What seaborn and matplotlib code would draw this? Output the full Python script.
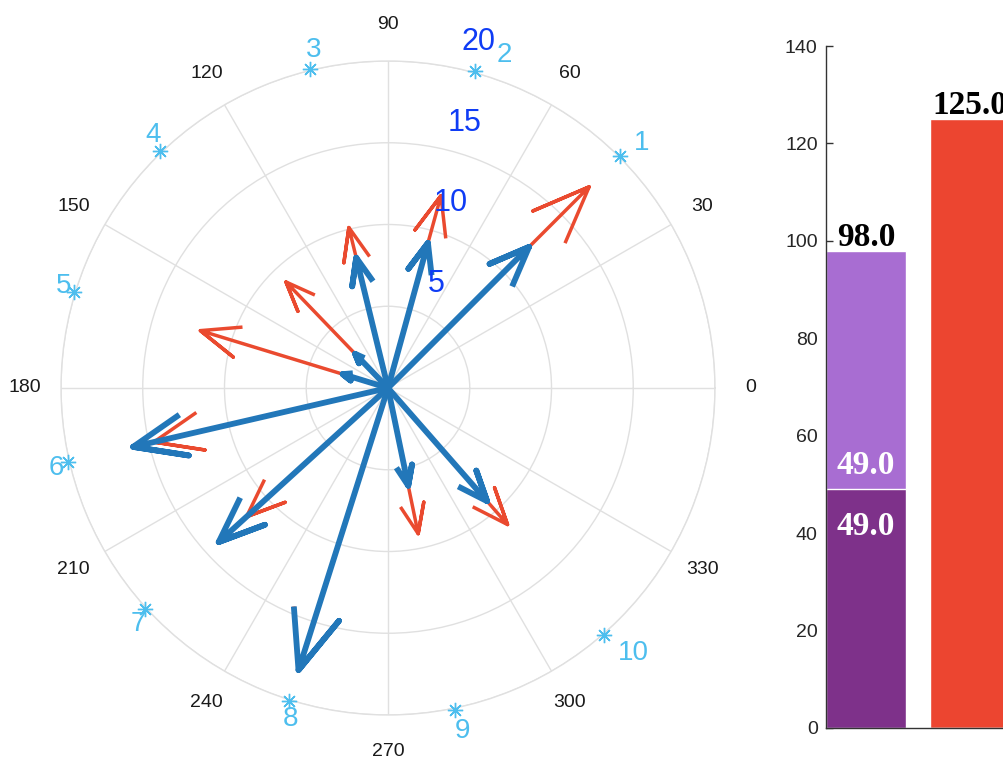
import numpy as np
import pandas as pd
import seaborn as sns
import matplotlib
matplotlib.use('Agg')
import matplotlib.pyplot as plt

# compass data: shared angles, two magnitude sets
angles_deg = [45, 74.6, 103.7, 133.9, 163, 193, 222.3, 252.4, 281.7, 311.2]
blue_mag = [12.2, 9.2, 8.2, 2.9, 2.9, 16.0, 14.0, 18.1, 6.1, 9.2]
red_mag = [17.4, 12.2, 10.1, 9.0, 12.0, 14.7, 11.7, 18.1, 9.1, 11.1]
point_labels = ['1', '2', '3', '4', '5', '6', '7', '8', '9', '10']
point_r = 20.1
radial_ticks = [5, 10, 15, 20]
theta_ticks = list(range(0, 360, 30))

# stacked bar data
bar_cats = ['A', 'B']
bar_totals = [98.0, 125.0]
bar_lower = [49.0, 0.0]

sns.set_theme(style='white')
plt.rcParams['font.family'] = ['Liberation Sans', 'DejaVu Sans']

blue = '#2277b9'
red = '#ea4a2f'
light_blue = '#4dbeee'
label_blue = '#0f3cf5'
grid_col = '#e0e0e0'

fig = plt.figure(figsize=(10.04, 7.6), dpi=100)
fig.patch.set_facecolor('white')

# ---- polar compass ----
ax = fig.add_axes([61 / 1004, 45 / 760, 654 / 1004, 654 / 760], projection='polar')
ax.set_ylim(0, 20)
ax.set_thetagrids(theta_ticks, [str(t) for t in theta_ticks])
ax.set_rticks(radial_ticks)
ax.set_yticklabels([])
ax.grid(True, color=grid_col, linewidth=1)
ax.spines['polar'].set_color(grid_col)
ax.spines['polar'].set_linewidth(1)
ax.tick_params(axis='x', pad=13, labelsize=14, colors='#1a1a1a')
ax.set_facecolor('white')


def arrow_path(theta, mag):
    z = mag * np.exp(1j * theta)
    pts = np.array([0, z, 0.8 * z + 0.08j * z, z, 0.8 * z - 0.08j * z])
    return np.angle(pts), np.abs(pts)


thetas = np.deg2rad(angles_deg)
for th, m in zip(thetas, red_mag):
    t, r = arrow_path(th, m)
    ax.plot(t, r, color=red, linewidth=2.5, solid_joinstyle='round',
            solid_capstyle='butt', zorder=3)
for th, m in zip(thetas, blue_mag):
    t, r = arrow_path(th, m)
    ax.plot(t, r, color=blue, linewidth=4.2, solid_joinstyle='round',
            solid_capstyle='butt', zorder=4)

ax.plot(thetas, [point_r] * len(thetas), linestyle='none', marker=(8, 2, 0),
        markersize=11, markeredgewidth=1, color=light_blue, zorder=5, clip_on=False)

label_offsets = [(21, 16), (29, 19), (3, 22), (-7, 19), (-10, 9),
                 (-11, -3), (-7, -12), (2, -15), (8, -18), (29, -15)]
for th, lbl, off in zip(thetas, point_labels, label_offsets):
    ax.annotate(lbl, xy=(th, point_r), xytext=off, textcoords='offset pixels',
                ha='center', va='center_baseline', color=light_blue, fontsize=20,
                annotation_clip=False)

for v in radial_ticks:
    ax.annotate(str(v), xy=(np.deg2rad(80), v), xytext=(34, 27), textcoords='offset pixels',
                ha='center', va='center_baseline', color=label_blue, fontsize=22,
                annotation_clip=False, zorder=6)

# ---- stacked bars ----
df = pd.DataFrame({'cat': bar_cats, 'total': bar_totals, 'lower': bar_lower})
ax2 = fig.add_axes([826 / 1004, 32 / 760, 184 / 1004, 682 / 760])
sns.barplot(data=df, x='cat', y='total', hue='cat', palette=['#a86dd2', '#ec4530'],
            width=0.77, saturation=1, legend=False, ax=ax2)
sns.barplot(data=df, x='cat', y='lower', hue='cat', palette=['#7e318a', '#ec4530'],
            width=0.77, saturation=1, legend=False, ax=ax2)
ax2.set_xlim(-0.385, 1.385)
ax2.set_ylim(0, 140)
ax2.set_yticks(range(0, 141, 20))
ax2.set_xticks([])
ax2.set_xlabel('')
ax2.set_ylabel('')
for side in ['top', 'right']:
    ax2.spines[side].set_visible(False)
for side in ['left', 'bottom']:
    ax2.spines[side].set_color('#333333')
    ax2.spines[side].set_linewidth(1)
ax2.tick_params(axis='y', direction='in', length=5, width=1, color='#333333',
                labelsize=14, labelcolor='#262626', pad=6, left=True)

for i, (tot, low) in enumerate(zip(bar_totals, bar_lower)):
    ax2.annotate(f'{tot:.1f}', xy=(i, tot), xytext=(0, 5), textcoords='offset pixels',
                 ha='center', va='baseline', fontsize=24, fontweight='bold',
                 family='Liberation Serif', color='black', annotation_clip=False)
    if low > 0:
        ax2.annotate(f'{tot - low:.1f}', xy=(i, low), xytext=(0, 15), textcoords='offset pixels',
                     ha='center', va='baseline', fontsize=24, fontweight='bold',
                     family='Liberation Serif', color='white')
        ax2.annotate(f'{low:.1f}', xy=(i, low), xytext=(0, -46), textcoords='offset pixels',
                     ha='center', va='baseline', fontsize=24, fontweight='bold',
                     family='Liberation Serif', color='white')

fig.savefig('out.png', dpi=100)
